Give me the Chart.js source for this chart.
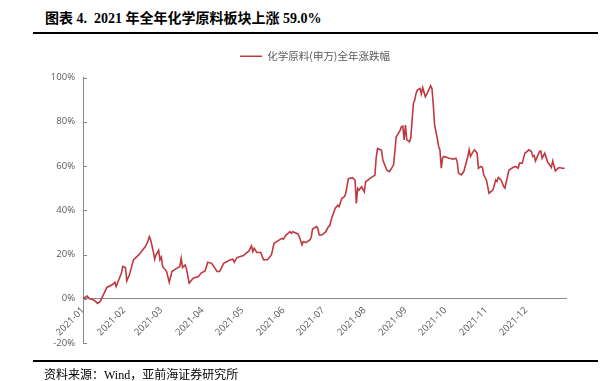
<!DOCTYPE html>
<html>
<head>
<meta charset="utf-8">
<script src="https://cdn.jsdelivr.net/npm/chart.js@4/dist/chart.umd.min.js"></script>
<style>
  html, body { margin: 0; padding: 0; background: #fff; }
  body { width: 610px; height: 381px; position: relative; overflow: hidden; }
  #title { position: absolute; left: 45px; top: 11px; font: bold 14px/16px "Liberation Serif", "Noto Sans CJK SC", serif; color: #000; white-space: pre; }
  .rule { position: absolute; left: 33px; width: 565px; height: 2px; background: #000; }
  #footer { position: absolute; left: 44px; top: 368px; font: 12px/14px "Liberation Serif", "Noto Sans CJK SC", serif; color: #000; white-space: pre; }
  #wrap { position: absolute; left: 22px; top: 36px; width: 588px; height: 345px; }
</style>
</head>
<body>
<div id="title">图表 4.  2021 年全年化学原料板块上涨 59.0%</div>
<div class="rule" style="top:32px"></div>
<div id="wrap"><canvas id="c" width="588" height="345"></canvas></div>
<div class="rule" style="top:360px"></div>
<div id="footer">资料来源：Wind，亚前海证券研究所</div>
<script>
// ---- data (day-of-year index 0 = 2021-01-01) ----
const seriesName = '化学原料(申万)全年涨跌幅';
const monthLabels = ['2021-01','2021-02','2021-03','2021-04','2021-05','2021-06','2021-07','2021-08','2021-09','2021-10','2021-11','2021-12'];
const monthStarts = [0,31,59,90,120,151,181,212,243,273,304,334];
const yTickValues = [-20,0,20,40,60,80,100];
const days = [0,3,5,7,9,11,13,18,22,24,25,27,29,30,32,33,35,38,42,47,49,50,51,53,54,55,57,58,59,60,63,65,67,70,73,74,75,77,78,80,83,87,89,92,94,97,101,103,106,111,113,114,116,118,121,123,125,127,128,129,131,134,136,139,142,144,148,150,151,153,156,157,158,162,163,165,166,168,171,172,173,176,177,178,180,183,185,186,187,190,192,193,195,197,198,200,203,205,206,207,208,210,212,213,216,218,220,221,222,225,226,227,229,231,234,235,236,239,240,241,242,243,244,246,247,249,250,251,252,254,255,256,258,260,262,263,264,265,267,268,269,270,271,272,276,279,281,282,283,285,287,290,291,292,294,295,297,298,300,301,302,304,306,309,311,312,313,315,317,318,321,324,326,328,329,331,333,334,336,338,339,340,341,344,345,346,348,350,353,354,356,358,359,361,363];
const changePct = [0,1.2,0,-0.3,-1,-2.1,-1.2,5.1,6.3,7.5,5.5,8.6,11.6,14.6,14.1,8.1,10.8,17.6,19.8,23.6,26.1,28.1,26.6,21.3,17.9,19.8,21.9,17.6,18.8,14.6,12.3,7.5,12.3,13.5,14.6,18.3,14.1,15.3,13.5,7.1,9.3,10,11.6,12.6,16.5,16,12.3,12.3,16,17.6,17.9,16.5,18.6,19,19.5,20.6,21.5,23.9,21.3,22.8,20.9,20.9,17.6,17.6,19.8,25.1,26.6,27.3,26.9,28.8,30.3,29.6,30.3,29.3,28.1,24.3,25.8,25.4,26.6,27.8,31.5,32.6,31.8,28.8,28.8,30.3,32.6,33,35.6,40.8,42.3,41.6,45.3,46.1,47.6,54.3,54.7,53.6,43.1,49.9,49.1,50.6,48.3,52.8,54.3,55.1,55.9,64.1,67.9,67.1,62.6,61.1,58.1,57.4,60.4,66.3,73.1,76.1,77.8,78,71.8,78.5,71.8,71,72.5,88.3,89.8,92.8,94.3,95,92.5,95.4,91.3,93.6,96.2,95,87.5,78.5,72.5,68.8,67.3,59,63.8,64.3,63.5,63.1,63.5,62,56.8,56,57.5,64.3,67.3,64.3,66.5,67.3,65.8,59,59.8,59.3,56,53.7,47.7,49.2,53.7,53,54.8,53.7,50.8,50,58.2,59.3,59.8,59,61.3,61.3,65.8,66.2,67.3,66.5,64.3,64.7,62.3,66.5,66.8,63.5,65.8,62,59.3,62.3,57.8,59,59.3,59,59];

const axisColor = '#898989';
const textColor = '#595959';
const lineColor = '#C0393F';

const legendSpacer = {
  id: 'legendSpacer',
  beforeInit(chart) {
    const fit = chart.legend.fit;
    chart.legend.fit = function () { fit.call(this); this.height += 6; };
  },
  afterLayout(chart) {
    chart.legend.left += 21;
    chart.legend.right += 21;
  }
};
const innerTicks = {
  id: 'innerTicks',
  afterDraw(chart) {
    const y = chart.scales.y, ctx = chart.ctx;
    ctx.save();
    ctx.strokeStyle = axisColor; ctx.lineWidth = 1;
    y.ticks.forEach(t => {
      const py = Math.round(y.getPixelForValue(t.value)) + 0.5;
      ctx.beginPath(); ctx.moveTo(y.right, py); ctx.lineTo(y.right + 4, py); ctx.stroke();
    });
    ctx.restore();
  }
};

new Chart(document.getElementById('c'), {
  type: 'line',
  data: {
    datasets: [{
      label: seriesName,
      data: days.map((d, i) => ({ x: d, y: changePct[i] })),
      borderColor: lineColor,
      backgroundColor: lineColor,
      borderWidth: 1.6,
      pointRadius: 0,
      tension: 0,
      pointStyle: 'line'
    }]
  },
  options: {
    responsive: false,
    animation: false,
    devicePixelRatio: 1,
    layout: { padding: { top: 5, right: 44, bottom: 38, left: 0 } },
    plugins: {
      legend: {
        position: 'top',
        labels: {
          usePointStyle: true,
          pointStyleWidth: 22,
          boxHeight: 10,
          color: textColor,
          font: { family: '"Noto Sans CJK SC"', size: 10.5 },
          padding: 10
        }
      },
      tooltip: { enabled: false }
    },
    scales: {
      x: {
        type: 'linear',
        position: { y: 0 },
        min: 0, max: 364,
        afterBuildTicks: s => { s.ticks = monthStarts.map(v => ({ value: v })); },
        grid: { display: false, drawTicks: false },
        border: { display: true, color: axisColor, width: 1 },
        ticks: {
          autoSkip: false, minRotation: 45, maxRotation: 45, padding: 6,
          color: textColor, font: { family: '"Open Sans"', size: 9.5 },
          callback: (v, i) => monthLabels[i]
        }
      },
      y: {
        min: -20, max: 100,
        afterBuildTicks: s => { s.ticks = yTickValues.map(v => ({ value: v })); },
        afterFit: s => { s.width = 61; },
        grid: { display: false, drawTicks: false },
        border: { display: true, color: axisColor, width: 1 },
        ticks: {
          padding: 8, color: textColor, font: { family: '"Open Sans"', size: 9.5 },
          callback: v => v + '%'
        }
      }
    }
  },
  plugins: [legendSpacer, innerTicks]
});
</script>
</body>
</html>
